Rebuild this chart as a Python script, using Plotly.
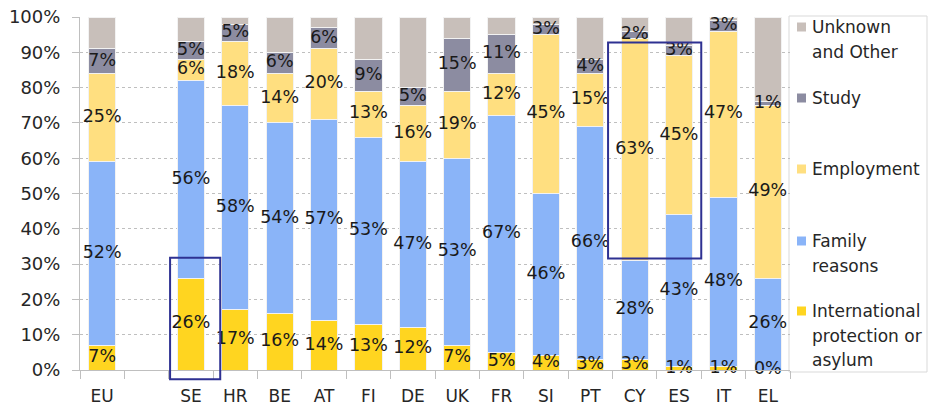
import plotly.graph_objects as go

countries = ["EU", " ", "SE", "HR", "BE", "AT", "FI", "DE", "UK", "FR", "SI", "PT", "CY", "ES", "IT", "EL"]
intl_protection = [7, None, 26, 17, 16, 14, 13, 12, 7, 5, 4, 3, 3, 1, 1, 0]
family = [52, None, 56, 58, 54, 57, 53, 47, 53, 67, 46, 66, 28, 43, 48, 26]
employment = [25, None, 6, 18, 14, 20, 13, 16, 19, 12, 45, 15, 63, 45, 47, 49]
study = [7, None, 5, 5, 6, 6, 9, 5, 15, 11, 3, 4, 2, 3, 3, 1]
unknown = [9, None, 7, 2, 10, 3, 12, 20, 6, 5, 2, 12, 4, 8, 1, 24]

series_names = ["International<br>protection or<br>asylum", "Family<br>reasons",
                "Employment", "Study", "Unknown<br>and Other"]
series_values = [intl_protection, family, employment, study, unknown]
series_colors = ["#FFD520", "#8AB4F8", "#FFDF80", "#8C8CA1", "#C8BFBA"]
series_labelled = [True, True, True, True, False]

FONT = "DejaVu Sans"
TXT = "#262626"
W, H = 929, 408
ML, MR, MT, MB = 80, 139, 17, 38
PW, PH = W - ML - MR, H - MT - MB


def px(x):
    return (x - ML) / PW


def py(y):
    return (H - MB - y) / PH


fig = go.Figure()

for name, vals, color in zip(series_names, series_values, series_colors):
    fig.add_trace(go.Bar(
        x=countries, y=vals, name=name.replace("<br>", " "),
        marker=dict(color=color, line=dict(color="#F2F2F2", width=1)),
        showlegend=False, hoverinfo="skip",
    ))

# segment labels centred in each segment
base = [0] * len(countries)
for vals, labelled in zip(series_values, series_labelled):
    mids, texts, xs = [], [], []
    for j, v in enumerate(vals):
        if v is None:
            continue
        if labelled:
            xs.append(countries[j])
            mids.append(base[j] + v / 2)
            texts.append(f"{v}%")
        base[j] += v
    if labelled:
        fig.add_trace(go.Scatter(
            x=xs, y=mids, text=texts, mode="text",
            textposition="middle center",
            textfont=dict(family=FONT, size=17.5, color="#1a1a1a"),
            showlegend=False, hoverinfo="skip", cliponaxis=False,
        ))

# highlight boxes (category index positions)
box_color = "#2E3192"
fig.add_shape(type="rect", xref="x", yref="y domain",
              x0=1.53, x1=2.66, y0=-0.026, y1=0.318,
              line=dict(color=box_color, width=2), fillcolor="rgba(0,0,0,0)")
fig.add_shape(type="rect", xref="x", yref="y domain",
              x0=11.4, x1=13.5, y0=0.316, y1=0.928,
              line=dict(color=box_color, width=2), fillcolor="rgba(0,0,0,0)")

# legend (box with swatches and text), top to bottom
legend_order = [4, 3, 2, 1, 0]
legend_first_line_y = [27, 98, 169, 241, 311]   # pixel centre of first text line
LINE_STEP = 24.5
fig.add_shape(type="rect", xref="paper", yref="paper",
              x0=px(789), x1=px(927), y0=py(372), y1=py(16),
              line=dict(color="#D9D9D9", width=1), fillcolor="white", layer="below")
for idx, yc in zip(legend_order, legend_first_line_y):
    fig.add_shape(type="rect", xref="paper", yref="paper",
                  x0=px(797), x1=px(806), y0=py(yc + 4.5), y1=py(yc - 4.5),
                  line=dict(width=0), fillcolor=series_colors[idx])
    for k, line in enumerate(series_names[idx].split("<br>")):
        fig.add_annotation(xref="paper", yref="paper", x=px(810),
                           y=py(yc + k * LINE_STEP),
                           xanchor="left", yanchor="middle", align="left",
                           text=line, showarrow=False,
                           font=dict(family=FONT, size=17, color=TXT))

fig.update_layout(
    width=W, height=H,
    margin=dict(l=ML, r=MR, t=MT, b=MB, autoexpand=False),
    barmode="stack", bargap=0.385,
    plot_bgcolor="white", paper_bgcolor="white",
    font=dict(family=FONT, size=17, color=TXT),
    showlegend=False,
    xaxis=dict(
        type="category", categoryorder="array", categoryarray=countries,
        range=[-0.5, 15.5], automargin=False,
        showline=True, linecolor="#BFBFBF", linewidth=1,
        ticks="outside", tickson="boundaries", ticklen=8, tickcolor="#BFBFBF",
        ticklabelstandoff=11,
        tickfont=dict(family=FONT, size=17, color=TXT),
        showgrid=False,
    ),
    yaxis=dict(
        range=[0, 100], dtick=10, ticksuffix="%", automargin=False,
        showline=True, linecolor="#BFBFBF", linewidth=1,
        ticks="outside", ticklen=7, tickcolor="#BFBFBF",
        ticklabelstandoff=8,
        gridcolor="#BFBFBF", griddash="dot", gridwidth=1,
        zeroline=False,
        tickfont=dict(family=FONT, size=18, color=TXT),
    ),
)

fig.write_html("out.html", config={"displayModeBar": False},
               post_script="document.body.style.margin='0';")
